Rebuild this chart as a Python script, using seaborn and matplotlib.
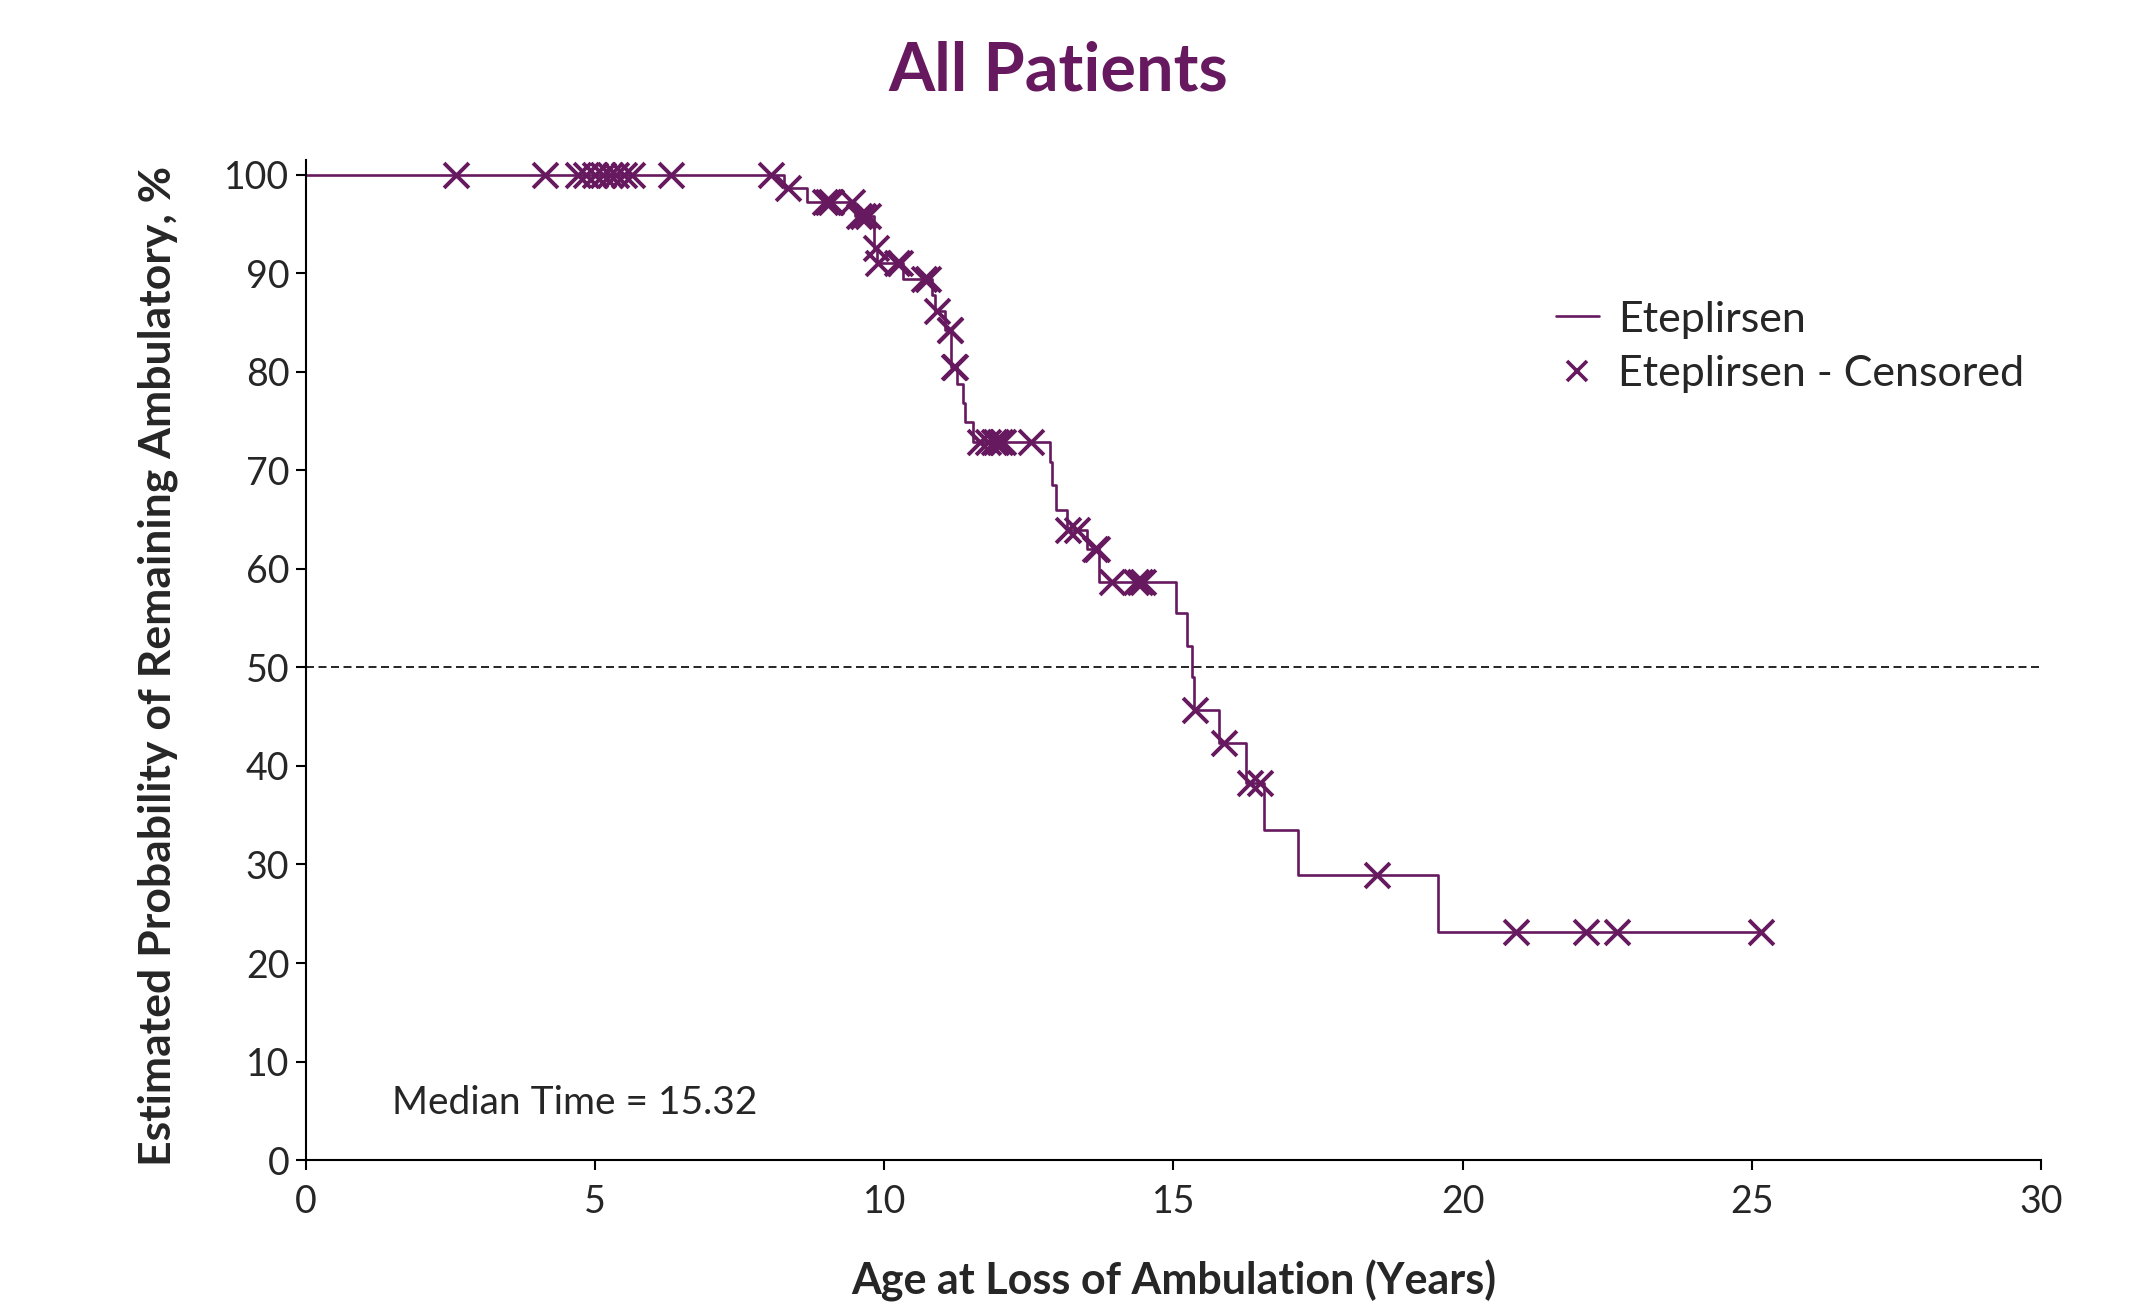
import numpy as np
import pandas as pd
import matplotlib.pyplot as plt
import seaborn as sns
from matplotlib.lines import Line2D

# Kaplan-Meier step curve: age (years) and % still ambulatory after each step
step_years = [0, 8.26, 8.67, 9.50, 9.82, 9.88, 10.32, 10.82, 10.88, 11.05, 11.15,
              11.25, 11.37, 11.40, 11.53, 12.87, 12.90, 12.97, 13.16, 13.50, 13.72,
              15.05, 15.23, 15.32, 15.36, 15.78, 16.25, 16.56, 17.16, 19.57, 25.16]
step_pct = [100, 98.7, 97.2, 95.8, 92.6, 91.0, 89.4, 87.8, 86.2, 84.2, 80.5,
            78.8, 76.8, 74.9, 72.9, 70.8, 68.5, 66.0, 63.9, 62.0, 58.7,
            55.5, 52.2, 49.0, 45.7, 42.3, 38.3, 33.5, 28.9, 23.1, 23.1]

# censored patients
cens_years = [2.59, 4.13, 4.70, 4.85, 4.99, 5.13, 5.26, 5.36, 5.50, 5.64, 6.31, 8.04,
              8.33, 8.98, 9.03, 9.08, 9.44, 9.56, 9.64, 9.72, 9.85, 9.90,
              10.22, 10.27, 10.68, 10.76, 10.91, 11.13, 11.14, 11.20, 11.22,
              11.66, 11.80, 11.89, 11.94, 12.00, 12.06, 12.53, 13.18, 13.33,
              13.65, 13.68, 13.94, 14.35, 14.43, 14.48, 15.37, 15.88, 16.33, 16.49,
              18.52, 20.93, 22.13, 22.67, 25.16]
cens_pct = [100, 100, 100, 100, 100, 100, 100, 100, 100, 100, 100, 100,
            98.7, 97.2, 97.2, 97.2, 97.2, 95.8, 95.8, 95.8, 92.6, 91.0,
            91.0, 91.0, 89.4, 89.4, 86.2, 84.2, 84.2, 80.5, 80.5,
            72.9, 72.9, 72.9, 72.9, 72.9, 72.9, 72.9, 63.9, 63.9,
            62.0, 62.0, 58.7, 58.7, 58.7, 58.7, 45.7, 42.3, 38.3, 38.3,
            28.9, 23.1, 23.1, 23.1, 23.1]

median_time = 15.32

df_step = pd.DataFrame({'age': step_years, 'pct': step_pct})
df_cens = pd.DataFrame({'age': cens_years, 'pct': cens_pct})

purple = '#66195F'

sns.set_style('ticks')
plt.rcParams['font.family'] = ['Lato', 'DejaVu Sans']

fig = plt.figure(figsize=(21.43, 13.08), dpi=100)
ax = fig.add_axes([0.1428, 0.1131, 0.8095, 0.7646])

sns.lineplot(data=df_step, x='age', y='pct', ax=ax, color=purple, linewidth=1.9,
             drawstyle='steps-post', estimator=None, sort=False)
sns.scatterplot(data=df_cens, x='age', y='pct', ax=ax, marker='x', color=purple,
                s=320, linewidth=2.8, zorder=3)

ax.axhline(50, color='black', linewidth=1.2, linestyle=(0, (4.8, 2.7)))

ax.set_xlim(0, 30)
ax.set_ylim(0, 101.5)
ax.set_xticks(np.arange(0, 31, 5))
ax.set_yticks(np.arange(0, 101, 10))
ax.tick_params(axis='both', labelsize=27, length=7, width=1.5, color='black')
ax.tick_params(axis='x', pad=10)
ax.tick_params(axis='y', pad=5)
for s in ['left', 'bottom']:
    ax.spines[s].set_linewidth(1.5)
    ax.spines[s].set_color('black')
sns.despine(ax=ax)

ax.set_xlabel('Age at Loss of Ambulation (Years)', fontsize=31, fontweight='bold')
ax.set_ylabel('Estimated Probability of Remaining Ambulatory, %', fontsize=32, fontweight='bold')
ax.xaxis.set_label_coords(0.5, -0.1)
ax.yaxis.set_label_coords(-0.074, 0.494)

ax.text(1.49, 5.8, f'Median Time = {median_time:.2f}', fontsize=28, va='center', ha='left')

fig.text(0.494, 0.945, 'All Patients', fontsize=48, fontweight='bold', color=purple,
         ha='center', va='center')

handles = [Line2D([], [], color=purple, linewidth=1.9),
           Line2D([], [], color=purple, marker='x', linestyle='none', markersize=15,
                  markeredgewidth=2.6)]
ax.legend(handles, ['Eteplirsen', 'Eteplirsen - Censored'], frameon=False, fontsize=31,
          loc='upper left', bbox_to_anchor=(0.708, 0.881), handlelength=1.0,
          handletextpad=0.45, labelspacing=0.38, borderpad=0)

fig.savefig('out.png', dpi=100)
